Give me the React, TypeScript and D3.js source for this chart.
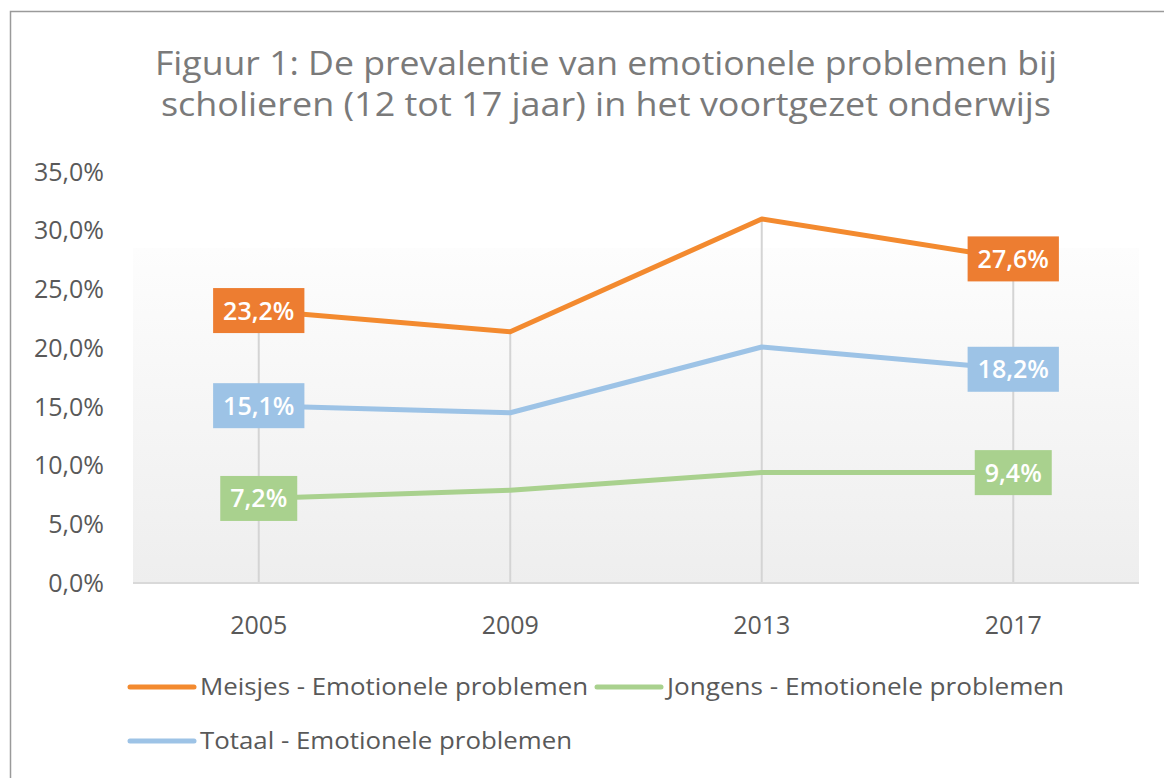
import React, { useEffect, useRef } from 'react'
import * as d3 from 'd3'

const years = ['2005', '2009', '2013', '2017']
const meisjes = [23.2, 21.4, 31.0, 27.6]
const jongens = [7.2, 7.9, 9.4, 9.4]
const totaal = [15.1, 14.5, 20.1, 18.2]
const yTicks = [0, 5, 10, 15, 20, 25, 30, 35]
const labelIdx = [0, 3]
const titleLines = [
  'Figuur 1: De prevalentie van emotionele problemen bij',
  'scholieren (12 tot 17 jaar) in het voortgezet onderwijs',
]

const series = [
  { name: 'Meisjes - Emotionele problemen', values: meisjes, line: '#F38A2F', box: '#ED7D31' },
  { name: 'Jongens - Emotionele problemen', values: jongens, line: '#A9D18E', box: '#A9D18E' },
  { name: 'Totaal - Emotionele problemen', values: totaal, line: '#9DC3E6', box: '#9DC3E6' },
]

const W = 1164
const H = 778
const FONT = '"Open Sans", "Noto Sans", sans-serif'

export default function App() {
  const svgRef = useRef<SVGSVGElement | null>(null)

  useEffect(() => {
    const svg = d3.select(svgRef.current)
    svg.selectAll('*').remove()

    const left = 133, right = 1139, top = 172, bottom = 583

    const x = d3.scaleBand().domain(years).range([left, right])
    const xc = (d: string) => (x(d) as number) + x.bandwidth() / 2
    const y = d3.scaleLinear().domain([0, 35]).range([bottom, top])

    // chart frame
    svg.append('rect')
      .attr('x', 10.5).attr('y', 11.5)
      .attr('width', W + 20).attr('height', H + 20)
      .attr('fill', '#fff').attr('stroke', '#9a9a9a').attr('stroke-width', 1.5)

    // title
    svg.append('g').selectAll('text')
      .data(titleLines)
      .join('text')
      .attr('x', 606).attr('y', (d, i) => 75 + i * 41)
      .attr('text-anchor', 'middle')
      .attr('font-family', FONT).attr('font-size', 33)
      .attr('fill', '#7a7a7a')
      .attr('textLength', (d, i) => (i === 0 ? 902 : 890))
      .attr('lengthAdjust', 'spacingAndGlyphs')
      .text(d => d)

    // plot background gradient
    const grad = svg.append('defs').append('linearGradient')
      .attr('id', 'bg').attr('x1', 0).attr('y1', 0).attr('x2', 0).attr('y2', 1)
    grad.append('stop').attr('offset', 0).attr('stop-color', '#fdfdfd')
    grad.append('stop').attr('offset', 1).attr('stop-color', '#eeeeee')
    svg.append('rect')
      .attr('x', left).attr('y', 248)
      .attr('width', right - left).attr('height', bottom - 248)
      .attr('fill', 'url(#bg)')

    // drop lines from the highest point of each category
    svg.append('g').selectAll('line')
      .data(years)
      .join('line')
      .attr('x1', d => xc(d)).attr('x2', d => xc(d))
      .attr('y1', (d, i) => y(d3.max(series, s => s.values[i]) as number))
      .attr('y2', bottom)
      .attr('stroke', '#d4d4d4').attr('stroke-width', 2)

    // baseline
    svg.append('line')
      .attr('x1', left).attr('x2', right)
      .attr('y1', bottom).attr('y2', bottom)
      .attr('stroke', '#d9d9d9').attr('stroke-width', 2)

    // y axis labels
    svg.append('g').selectAll('text')
      .data(yTicks)
      .join('text')
      .attr('x', 104).attr('y', d => y(d))
      .attr('dy', '0.35em')
      .attr('text-anchor', 'end')
      .attr('font-family', FONT).attr('font-size', 25)
      .attr('fill', '#595959')
      .text(d => d3.format('.1f')(d).replace('.', ',') + '%')

    // x axis labels
    svg.append('g').selectAll('text')
      .data(years)
      .join('text')
      .attr('x', d => xc(d)).attr('y', 625)
      .attr('dy', '0.35em')
      .attr('text-anchor', 'middle')
      .attr('font-family', FONT).attr('font-size', 25)
      .attr('fill', '#595959')
      .text(d => d)

    // lines
    const line = d3.line<number>()
      .x((d, i) => xc(years[i]))
      .y(d => y(d))

    svg.append('g').selectAll('path')
      .data(series)
      .join('path')
      .attr('fill', 'none')
      .attr('stroke', d => d.line)
      .attr('stroke-width', 5)
      .attr('stroke-linejoin', 'round')
      .attr('d', d => line(d.values))

    // data labels
    series.forEach(s => {
      labelIdx.forEach(i => {
        const g = svg.append('g')
        const cx = xc(years[i])
        const cy = y(s.values[i])
        const t = g.append('text')
          .attr('x', cx).attr('y', cy)
          .attr('dy', '0.36em')
          .attr('text-anchor', 'middle')
          .attr('font-family', FONT).attr('font-size', 25).attr('font-weight', 600)
          .attr('fill', '#fff')
          .text(s.values[i].toFixed(1).replace('.', ',') + '%')
        const w = (t.node() as SVGTextElement).getComputedTextLength() + 20
        g.insert('rect', 'text')
          .attr('x', cx - w / 2).attr('y', cy - 22.5)
          .attr('width', w).attr('height', 45)
          .attr('fill', s.box)
      })
    })

    // legend
    const legendPos = [
      { x: 130, y: 687 },
      { x: 597, y: 687 },
      { x: 130, y: 741 },
    ]
    const legendLen = [388, 397, 372]
    const lg = svg.append('g').selectAll('g')
      .data(series)
      .join('g')
      .attr('transform', (d, i) => `translate(${legendPos[i].x},${legendPos[i].y})`)
    lg.append('line')
      .attr('x1', 0).attr('x2', 64)
      .attr('stroke', d => d.line).attr('stroke-width', 5)
      .attr('stroke-linecap', 'round')
    lg.append('text')
      .attr('x', 70).attr('dy', '0.35em')
      .attr('font-family', FONT).attr('font-size', 24)
      .attr('fill', '#595959')
      .attr('textLength', (d, i) => legendLen[i])
      .attr('lengthAdjust', 'spacingAndGlyphs')
      .text(d => d.name)
  }, [])

  return (
    <svg ref={svgRef} width={W} height={H}
      style={{ position: 'absolute', left: 0, top: 0, background: '#fff' }} />
  )
}
